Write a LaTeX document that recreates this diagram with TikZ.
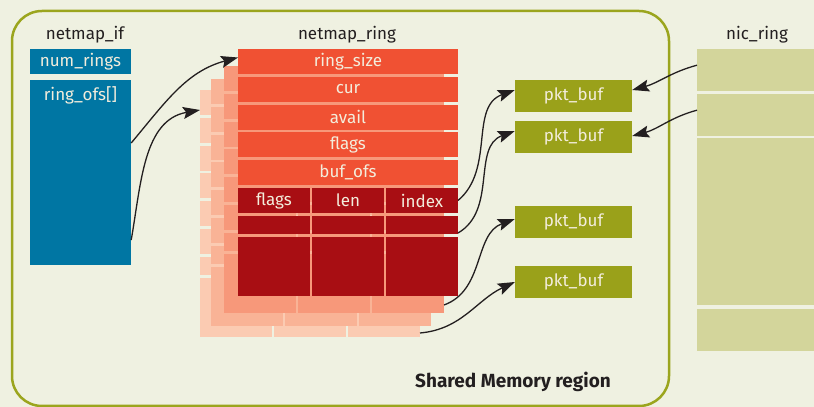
\documentclass[tikz,border=0pt]{standalone}
\usepackage{fontspec}
\setmainfont{Fira Sans}
\usetikzlibrary{
  positioning,
  arrows.meta
}
\definecolor{bgc}{RGB}{239,241,225}
\definecolor{regionc}{RGB}{155,165,30}
\definecolor{ifc}{RGB}{0,118,163}
\definecolor{ringtop}{RGB}{240,81,51}
\definecolor{ringlow}{RGB}{168,14,19}
\definecolor{layerA}{RGB}{247,152,122}
\definecolor{layerB}{RGB}{249,179,150}
\definecolor{layerC}{RGB}{251,203,178}
\definecolor{pktc}{RGB}{154,161,26}
\definecolor{nicc}{RGB}{211,213,155}
\definecolor{inkc}{RGB}{35,31,32}
\definecolor{creamc}{RGB}{243,237,220}

\newcommand{\ringlayer}[4]{%
  \begin{scope}[shift={#2}]
    \node[cell, fill=#3] (#1-size) at (238,358) {};
    \node[cell, fill=#3] (#1-cur) at (238,330.2) {};
    \node[cell, fill=#3] (#1-avail) at (238,302.4) {};
    \node[cell, fill=#3] (#1-flags) at (238,274.6) {};
    \node[cell, fill=#3] (#1-bufofs) at (238,246.8) {};
    \node[slot, fill=#4] (#1-a1) at (238,219) {};
    \node[slot, fill=#4] (#1-a2) at (312,219) {};
    \node[slot, fill=#4] (#1-a3) at (386,219) {};
    \node[slot, fill=#4, minimum height=18pt] (#1-b1) at (238,191) {};
    \node[slot, fill=#4, minimum height=18pt] (#1-b2) at (312,191) {};
    \node[slot, fill=#4, minimum height=18pt] (#1-b3) at (386,191) {};
    \node[slot, fill=#4, minimum height=59pt] (#1-c1) at (238,170) {};
    \node[slot, fill=#4, minimum height=59pt] (#1-c2) at (312,170) {};
    \node[slot, fill=#4, minimum height=59pt] (#1-c3) at (386,170) {};
  \end{scope}}

\begin{document}
\begin{tikzpicture}[
    x=1pt, y=1pt, font=\fontsize{17}{19}\selectfont,
    cell/.style={
      anchor=north west,
      inner sep=0pt,
      outer sep=0pt,
      minimum width=220pt,
      minimum height=25pt
    },
    slot/.style={cell, minimum width=72pt},
    celltext/.style={text=creamc, inner sep=0pt},
    box/.style={
      inner sep=0pt,
      text=creamc,
      minimum width=101pt
    },
    pkt/.style={box, fill=pktc, minimum width=117pt, minimum height=32pt},
    nic/.style={anchor=north west, inner sep=0pt, fill=nicc,
      minimum width=117pt, minimum height=42pt},
    title/.style={text=inkc},
    link/.style={draw=inkc, line width=1.3pt,
      -{Stealth[length=17pt, width=12pt, inset=3pt]}}
  ]
  \useasboundingbox (0,0) rectangle (814,407);
  \fill[bgc] (0,0) rectangle (814,407);
  \draw[regionc, line width=2.5pt, rounded corners=30pt] (12,1) rectangle (669,396);

  \node[title] (iftitle) at (85,372) {netmap\_if};
  \node[title] (ringtitle) at (347,372) {netmap\_ring};
  \node[title] (nictitle) at (757,372) {nic\_ring};

  \node[box, fill=ifc, minimum height=25pt] (num) at (80.5,345.5) {num\_rings};
  \node[box, fill=ifc, minimum height=185pt] (ofs) at (80.5,234.5) {};
  \node[celltext, below=7pt of ofs.north] (ofstext) {ring\_ofs[]};

  \ringlayer{lc}{(-38,-41)}{layerC}{layerC}
  \ringlayer{lb}{(-27,-30)}{layerB}{layerB}
  \ringlayer{la}{(-14,-17)}{layerA}{layerA}
  \ringlayer{fr}{(0,0)}{ringtop}{ringlow}

  \node[celltext] at (fr-size) {ring\_size};
  \node[celltext] at (fr-cur) {cur};
  \node[celltext] at (fr-avail) {avail};
  \node[celltext] at (fr-flags) {flags};
  \node[celltext] at (fr-bufofs) {buf\_ofs};
  \node[celltext] at (fr-a1) {flags};
  \node[celltext] at (fr-a2) {len};
  \node[celltext] at (fr-a3) {index};

  \node[pkt] (pk1) at (573.5,311) {pkt\_buf};
  \node[pkt] (pk2) at (573.5,270) {pkt\_buf};
  \node[pkt] (pk3) at (573.5,185) {pkt\_buf};
  \node[pkt] (pk4) at (573.5,125) {pkt\_buf};

  \node[nic] (nic1) at (697,358) {};
  \node[nic] (nic2) at (697,313) {};
  \node[nic, minimum height=167pt] (nic3) at (697,269) {};
  \node[nic] (nic4) at (697,98) {};

  \draw[link] ([yshift=29.5pt]ofs.east) to[out=50, in=195] ([yshift=4pt]fr-size.west);
  \draw[link] ([yshift=-67.5pt]ofs.east) to[out=80, in=190] ([yshift=-7.5pt]lc-size.west);
  \draw[link] (fr-a3.east) to[out=40, in=200] ([yshift=6pt]pk1.west);
  \draw[link] ([yshift=-8pt]fr-b3.east) to[out=30, in=200] ([yshift=6pt]pk2.west);
  \draw[link] ([yshift=-21.5pt]la-c3.east) to[out=20, in=200] ([yshift=3pt]pk3.west);
  \draw[link] ([yshift=-25.5pt]lc-c3.east) to[out=5, in=205] (pk4.west);
  \draw[link] ([yshift=5pt]nic1.west) to[out=195, in=15] ([yshift=6pt]pk1.east);
  \draw[link] ([yshift=5pt]nic2.west) to[out=195, in=15] ([yshift=1pt]pk2.east);

  \node[text=inkc, font=\fontsize{19}{21}\selectfont\bfseries] (shm) at (513,25) {Shared Memory region};
\end{tikzpicture}
\end{document}
